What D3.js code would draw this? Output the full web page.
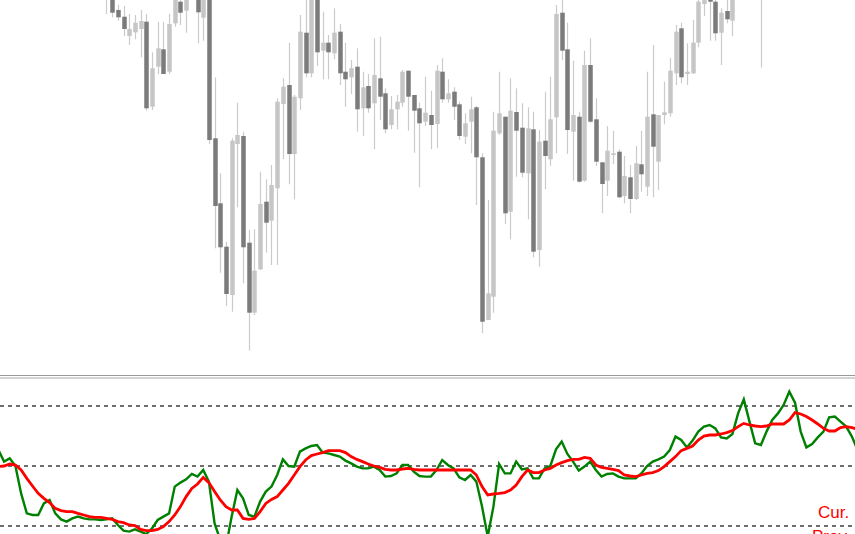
<!DOCTYPE html>
<html>
<head>
<meta charset="utf-8">
<script src="https://cdn.jsdelivr.net/npm/d3@7"></script>
<style>
  html, body { margin: 0; padding: 0; background: #fff; overflow: hidden; }
  svg { display: block; }
</style>
</head>
<body>
<div id="chart"></div>
<script>
// bar index of the first candle in the arrays below (earlier bars lie above the visible area)
const firstBar = 18;
// OHLC, price in chart points; null = bar entirely above the visible window
const open  = [408, 405, 390, 383.3, 364, 367.7, 371, 378.3, 293.3, 333.3, 350.7, 328.3, 376.7, 398.3, 389.3, null,
  405, 382.3, 403, 261.7, 196.7, 153.3, 105, 256, 264, 157.3, 87.3, 130.7, 198.3, 179.3, 211.7, 296, 315, 246, 301.7,
  367.3, 326.7, 403, 349.3, 357.3, 346.7, 368.3, 328.3, 322.7, 333.3, 291.7, 314, 296.7, 321.7, 306.7, 275, 290.7,
  297.3, 329.3, 305, 291.7, 278.3, 285, 276, 328.3, 300.7, 308.3, 295.7, 263.3, 278.3, 292.7, 242.7, 80, 103.3, 266.7,
  283.3, 188.3, 288, 272.3, 226.7, 270.7, 150, 259.3, 240.7, 282.7, 387.3, 350.7, 268.3, 283.3, 219.3, 335, 280.7,
  237.7, 219.3, 245, 248.3, 204, 222.7, 201, 235.7, 213.3, 285.7, 238.3, 285, 286.7, 326.7, 371.7, 326, 326.7, 357.3,
  396, 403, 398.3, 367.3, 389, 379.3, null, null, null, null, 410];
const high  = [422, 410, 395.3, 394, 386, 385, 390, 386, 347.7, 378.3, 378.3, 386, 408, 403, 406, null,
  410, 408, 408, 322.7, 226.7, 158.3, 261.7, 297.3, 268.3, 170, 170.7, 228.3, 220.7, 235, 301.7, 321.7, 357.3, 305, 385,
  402, 408, 408, 388.3, 365, 391.7, 376, 357.3, 340, 351.7, 328.3, 326, 361.7, 363.3, 311.7, 304, 305,
  330, 329.3, 305, 297.3, 323.3, 309.3, 335, 341.7, 320.7, 312.7, 298.3, 286.7, 303.3, 294, 246.7, 200, 288.3, 328.3,
  283.3, 321.7, 311.7, 296.7, 292.7, 288.3, 270, 308.3, 323.3, 395, 401, 377.3, 339.3, 288.3, 349.3, 361.7, 301.7,
  237.7, 274, 269.3, 250.7, 244, 235, 254, 269.3, 328.3, 355, 285, 318.3, 342.3, 375, 377.3, 356.7, 380, 403,
  408, 408, 403, 391.7, 402, 408, null, null, null, null, 425];
const low   = [386, 382.7, 379.3, 364, 355, 360.7, 342.7, 289.3, 290, 326, 326, 326, 373.3, 375, 367.3, null,
  356.7, 359.3, 256, 151.7, 127.3, 94, 88.3, 192.7, 116.7, 49.3, 85, 130, 147.3, 135, 135, 240.7, 215.7, 200.7, 290,
  322.7, 322.7, 334, 320.7, 320.7, 340.7, 315, 293.3, 306, 268.3, 264, 287.3, 250.7, 280, 266.7, 270.7, 270.7,
  293.3, 269.3, 247.3, 212.7, 274, 250.7, 251.7, 297.3, 297.3, 280, 260, 256, 246.7, 195, 66.7, 80, 87.3, 265,
  176, 160.7, 223.3, 222.7, 180.7, 142.7, 133.3, 210.7, 234, 246.7, 340, 246, 219.3, 217.3, 218.3, 277.3, 234,
  186.7, 204, 236, 201.7, 196.7, 186.7, 200, 208.3, 204, 202.7, 210, 275.7, 283.3, 315, 316.7, 315, 326, 352.7,
  384, 359.3, 359.3, 335, 376.7, 364, null, null, null, null, 332.3];
const close = [418, 387.3, 382.7, 371, 371, 377.3, 379, 291.7, 331.7, 351.7, 326, 376, 403, 387.3, 402, null,
  387.7, 403, 260, 194, 152.7, 106, 259.3, 265, 152.7, 87.3, 129.3, 196, 177.3, 215, 298.3, 313.3, 246, 303.3, 368.3,
  326.7, 403, 347.7, 357.3, 347.7, 367.3, 326.7, 320.7, 331.7, 290.7, 312.7, 291.7, 325, 303.3, 270.7, 290.7, 298.3,
  328.3, 303.3, 289.3, 276.7, 287.3, 275, 329.3, 300.7, 306.7, 293.3, 264, 276.7, 290.7, 242.7, 78.3, 106.7, 269.3, 286.7,
  186.7, 289.3, 269.3, 227.3, 271.7, 148.3, 258.3, 244, 280.7, 386, 349.3, 270, 285, 218.3, 335, 278.3, 238.3,
  216, 249.3, 246.7, 202.7, 224, 201, 236.7, 225.7, 283.3, 253.3, 285, 287.7, 329.3, 368.3, 322.7, 328.3, 357.3, 398.3,
  403, 398.3, 366.7, 387.3, 380.7, 403, null, null, null, null, 420];

// oscillator, one value per bar starting at bar -1
const firstOsc = -1;
const fastLine = [58, 52.2, 53.8, 50, 36.3, 26.3, 25.5, 25.5, 31.3, 33, 26.3, 23.3, 22.2, 23.8, 24.7, 23.8, 23.3, 23.3,
  23, 23.3, 23.8, 20.5, 17.7, 17.2, 18.3, 17.2, 16, 18.8, 23, 24.7, 26.3, 39.7, 41.7, 43.3, 46, 44.7, 48, 42.2, 21.3,
  13, 9.7, 24.7, 38, 33.8, 25.5, 24.7, 32.2, 37.2, 39.7, 45.5, 53.3, 50, 49.7, 57.2, 58.8, 60, 60.5, 56.7, 56.3, 55.5,
  54.7, 52.7, 51.3, 49.7, 48.8, 48.8, 49.7, 48, 44.7, 45, 46.3, 50.5, 50.5, 47.2, 45, 44.7, 44.7, 48, 53, 50.5, 48.8,
  44.3, 43, 45.5, 42.2, 29.7, 14.7, 29.7, 51, 46.3, 46.3, 52.2, 48.3, 48.8, 43.8, 43.8, 48.8, 50, 58.3, 62.2, 56, 52.2,
  47.7, 49.7, 52.2, 48, 44.7, 46, 46.3, 44.7, 43.8, 43.8, 43.8, 46.3, 50, 52.2, 53.3, 54.7, 58, 64.7, 63, 59.3, 62.7,
  67.2, 69.7, 70.5, 68.8, 64.3, 63.8, 66, 76.3, 83.3, 72.2, 61.3, 60.5, 67.2, 73, 76.3, 80.5, 87.2, 81.7, 67.2, 59.3,
  61, 64.3, 67.2, 74.3, 74.7, 72.2, 69.7, 64.7, 58];
const slowLine = [49.7, 50, 51, 50.5, 48, 43.8, 40, 36.3, 33.8, 31.7, 28.8, 27.7, 27.2, 27.2, 26.3, 25.5, 24.7, 24.3,
  24.3, 23.8, 23.3, 22.2, 21.7, 20.5, 20.2, 18.3, 17.7, 17.7, 18.3, 19.7, 22.2, 25.5, 29.7, 34.7, 38.8, 41, 44.3, 41.7,
  37.2, 33, 29.7, 28, 28, 23.8, 23.3, 23.8, 27.2, 31.3, 33.3, 34.7, 38, 41.3, 45.5, 49.7, 53, 55.2, 56, 56.7, 57.7,
  57.7, 57.7, 56.7, 54.7, 53.3, 52.2, 51, 50, 49.3, 48.3, 48, 48, 48.5, 48.8, 48.3, 48, 48, 48, 48, 48, 48, 48, 48, 48,
  48, 45.5, 39.7, 35.5, 36, 36.3, 36.7, 38, 40.5, 44.7, 48, 46.7, 46.7, 48, 48.8, 50.5, 51.7, 52.7, 53.3, 53.3, 54.3,
  53.8, 50.5, 49.3, 48.8, 48.3, 47.7, 45.5, 45, 44.7, 45.5, 46.3, 46.7, 47.7, 49.7, 52.2, 54.7, 57.7, 58.8, 60, 63, 65,
  65.5, 65.5, 66, 66.7, 67.7, 69.7, 71.3, 70.5, 70, 69.7, 70, 71, 71, 71, 73, 76.7, 76, 74.7, 73, 71, 68.8, 67.5, 67.5,
  69.2, 69.7, 69.2, 68.3];
const levels = [80, 50, 20];
const labels = ['Cur.', 'Prev.'];

document.addEventListener('DOMContentLoaded', () => {
    const W = 855, H = 534;
    const mainBottom = 375;
    const sub = { top: 380, bottom: 534 };

    const svg = d3.select('#chart').append('svg')
        .attr('width', W)
        .attr('height', H);

    const x = d3.scaleLinear().domain([0, 150]).range([4.05, 857.6]);
    const y = d3.scaleLinear().domain([25, 400]).range([mainBottom, 0]);
    const yOsc = d3.scaleLinear().domain([20, 80]).range([526, 406]);

    svg.append('clipPath').attr('id', 'mainClip')
      .append('rect').attr('x', 0).attr('y', 0).attr('width', W).attr('height', mainBottom - 1);
    svg.append('clipPath').attr('id', 'subClip')
      .append('rect').attr('x', 0).attr('y', sub.top).attr('width', W).attr('height', sub.bottom - sub.top);

    const bars = open.map((o, k) => ({ i: firstBar + k, o: o, h: high[k], l: low[k], c: close[k] }))
        .filter(d => d.o !== null);

    const main = svg.append('g').attr('clip-path', 'url(#mainClip)');

    // wicks
    main.selectAll('.wick')
        .data(bars)
        .enter().append('line')
        .attr('class', 'wick')
        .attr('x1', d => Math.round(x(d.i)) + 0.5)
        .attr('x2', d => Math.round(x(d.i)) + 0.5)
        .attr('y1', d => y(d.h))
        .attr('y2', d => y(d.l))
        .attr('stroke', '#cbcbcb')
        .attr('stroke-width', 1.2);

    // bodies
    main.selectAll('.body')
        .data(bars)
        .enter().append('rect')
        .attr('class', 'body')
        .attr('x', d => Math.round(x(d.i)) - 1.75)
        .attr('width', 4.5)
        .attr('y', d => y(Math.max(d.o, d.c)))
        .attr('height', d => Math.max(1.5, Math.abs(y(d.o) - y(d.c))))
        .attr('fill', d => d.c < d.o ? '#7b7b7b' : '#c6c6c6');

    // panel separator
    svg.append('line')
        .attr('x1', 0).attr('x2', W).attr('y1', 375.5).attr('y2', 375.5)
        .attr('stroke', '#9a9a9a').attr('stroke-width', 1);
    svg.append('line')
        .attr('x1', 0).attr('x2', W).attr('y1', 378).attr('y2', 378)
        .attr('stroke', '#c4c4c4').attr('stroke-width', 1.5);

    const subG = svg.append('g').attr('clip-path', 'url(#subClip)');

    subG.selectAll('.level')
        .data(levels)
        .enter().append('line')
        .attr('class', 'level')
        .attr('x1', 0).attr('x2', W)
        .attr('y1', d => yOsc(d))
        .attr('y2', d => yOsc(d))
        .attr('stroke', '#404040')
        .attr('stroke-width', 1.5)
        .attr('stroke-dasharray', '4,4');

    const oscLine = d3.line()
        .x((d, k) => x(firstOsc + k))
        .y(d => yOsc(d));

    subG.append('path')
        .datum(fastLine)
        .attr('d', oscLine)
        .attr('fill', 'none')
        .attr('stroke', '#008000')
        .attr('stroke-width', 2.4);

    subG.append('path')
        .datum(slowLine)
        .attr('d', oscLine)
        .attr('fill', 'none')
        .attr('stroke', '#ff0000')
        .attr('stroke-width', 2.8);

    svg.selectAll('.lbl')
        .data(labels)
        .enter().append('text')
        .attr('class', 'lbl')
        .attr('x', (d, k) => k === 0 ? 818 : 812)
        .attr('y', (d, k) => 518 + k * 24)
        .attr('fill', '#ff0000')
        .style('font-family', 'Liberation Sans, Arial, sans-serif')
        .style('font-size', '17px')
        .text(d => d);
});
</script>
</body>
</html>
